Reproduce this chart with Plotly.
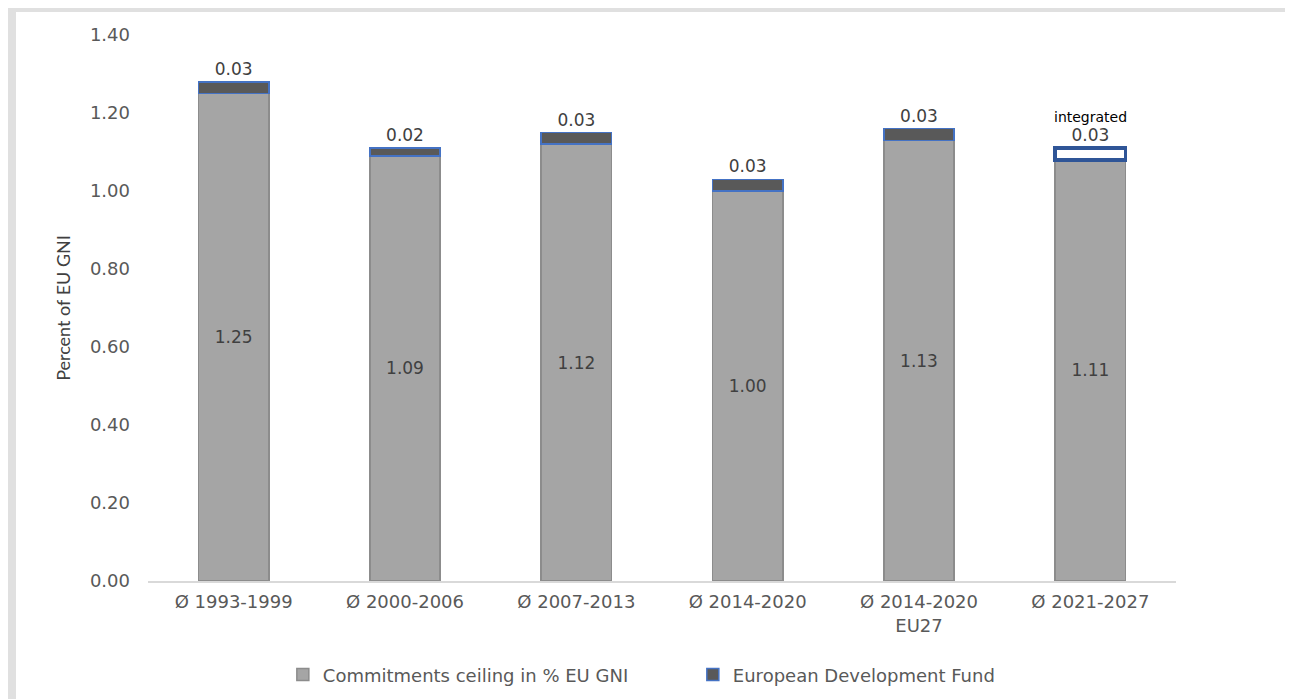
import plotly.graph_objects as go

categories = ["Ø 1993-1999", "Ø 2000-2006", "Ø 2007-2013", "Ø 2014-2020", "Ø 2014-2020<br>EU27", "Ø 2021-2027"]
ceiling = [1.25, 1.09, 1.12, 1.00, 1.13, 1.08]
edf = [0.03, 0.02, 0.03, 0.03, 0.03, 0.03]
edf_note = ["", "", "", "", "", "integrated"]

# the 2021-2027 ceiling label includes the integrated EDF
ceiling_labels = [f"{b + e:.2f}" if n else f"{b:.2f}" for b, e, n in zip(ceiling, edf, edf_note)]

W, H = 1293, 699
L, R, T, B = 140, 125, 27, 126
pw, ph = W - L - R, H - T - B

FONT = "DejaVu Sans"
TXT = "#404040"
AX = "#595959"
FS = 18

fig = go.Figure()
fig.add_trace(go.Bar(
    x=categories, y=ceiling, name="Commitments ceiling in % EU GNI",
    marker=dict(color="#a5a5a5", line=dict(color="#8c8c8c", width=1.5)),
    text=ceiling_labels, textposition="inside", insidetextanchor="middle",
    textfont=dict(family=FONT, size=17, color=TXT), constraintext="none",
))
edf_fill = ["#595959"] * (len(edf) - 1) + ["#ffffff"]
edf_line = ["#4472c4"] * (len(edf) - 1) + ["#2f5597"]
edf_lw = [1.5] * (len(edf) - 1) + [3.5]
fig.add_trace(go.Bar(
    x=categories, y=edf, name="European Development Fund",
    marker=dict(color=edf_fill, line=dict(color=edf_line, width=edf_lw)),
    text=[f"{v:.2f}" for v in edf], textposition="outside",
    textfont=dict(family=FONT, size=17, color=TXT), constraintext="none", cliponaxis=False,
))
for c, b, e, n in zip(categories, ceiling, edf, edf_note):
    if n:
        fig.add_annotation(x=c, y=b + e, text=n, showarrow=False, yshift=31,
                           font=dict(family=FONT, size=14, color="#000000"))

# gray frame on the left and top
fig.add_shape(type="rect", xref="paper", yref="paper",
              x0=-L / pw, x1=(8 - L) / pw, y0=-B / ph, y1=1 + T / ph,
              fillcolor="#e0e0e0", line=dict(width=0), layer="below")
fig.add_shape(type="rect", xref="paper", yref="paper",
              x0=-L / pw, x1=1 + R / pw, y0=1 + (T - 4) / ph, y1=1 + T / ph,
              fillcolor="#e0e0e0", line=dict(width=0), layer="below")

fig.update_layout(
    width=W, height=H, margin=dict(l=L, r=R, t=T, b=B),
    barmode="stack", bargap=0.59,
    plot_bgcolor="white", paper_bgcolor="white",
    font=dict(family=FONT, size=FS, color=AX),
    legend=dict(orientation="h", x=0.53, xanchor="center", y=-0.172, yanchor="middle",
                font=dict(family=FONT, size=FS, color=AX), traceorder="normal",
                entrywidth=365, entrywidthmode="pixels"),
    showlegend=True,
)
fig.update_xaxes(showline=True, linecolor="#d9d9d9", linewidth=1.5, ticks="",
                 ticklabelstandoff=4,
                 tickfont=dict(family=FONT, size=FS, color=AX), showgrid=False)
fig.update_yaxes(range=[0, 1.4], dtick=0.2, tickformat=".2f", showgrid=False,
                 zeroline=False, showline=False, ticks="", ticklabelstandoff=17,
                 tickfont=dict(family=FONT, size=FS, color=AX),
                 title=dict(text="Percent of EU GNI", font=dict(family="Lato", size=18, color=TXT), standoff=14))

fig.write_html("out.html")
